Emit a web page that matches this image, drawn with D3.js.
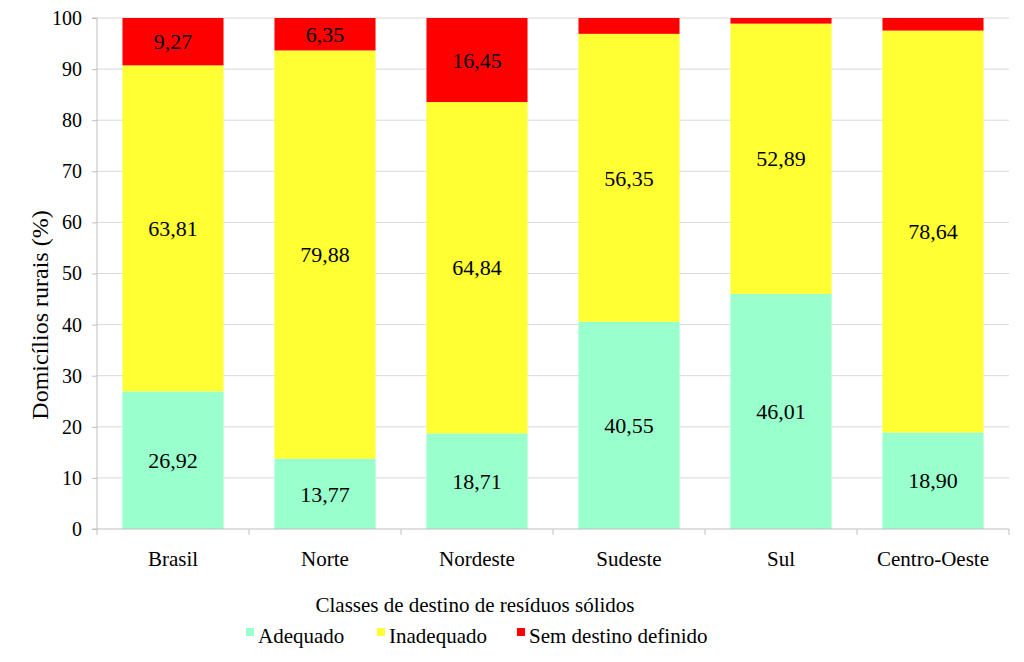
<!DOCTYPE html>
<html><head><meta charset="utf-8">
<script src="https://cdn.jsdelivr.net/npm/d3@7"></script>
<style>body{margin:0;background:#fff}svg{display:block}svg text{font-family:"Liberation Serif","Times New Roman",Times,"DejaVu Serif",serif !important;fill:#000}</style>
</head><body>
<svg id="c" width="1024" height="662"></svg>
<script>
const categories = ["Brasil","Norte","Nordeste","Sudeste","Sul","Centro-Oeste"];
const adequado = [26.92,13.77,18.71,40.55,46.01,18.90];
const inadequado = [63.81,79.88,64.84,56.35,52.89,78.64];
const semDestino = [9.27,6.35,16.45,3.10,1.10,2.46];
const showLabel = [[true,true,true],[true,true,true],[true,true,true],[true,true,false],[true,true,false],[true,true,false]];
const seriesNames = ["Adequado","Inadequado","Sem destino definido"];
const colors = ["#99FFCC","#FFFF33","#FF0000"];
const yTicks = [0,10,20,30,40,50,60,70,80,90,100];

const FONT = '"Liberation Serif","Times New Roman",Times,"DejaVu Serif",serif';
const svg = d3.select("#c").style("font-family", FONT);
const m = {l:97, r:1009, t:18, b:529};
const x = d3.scaleBand().domain(categories).range([m.l, m.r]).paddingInner(0.335).paddingOuter(0.1675);
const y = d3.scaleLinear().domain([0,100]).range([m.b, m.t]);

// gridlines
svg.append("g").selectAll("line").data(yTicks.filter(d=>d>0)).join("line")
  .attr("x1", m.l).attr("x2", m.r).attr("y1", d=>y(d)).attr("y2", d=>y(d))
  .attr("stroke", "#d9d9d9").attr("stroke-width", 1);

const data = categories.map((c,i)=>({cat:c, vals:[adequado[i],inadequado[i],semDestino[i]], i}));
const stack = d3.stack().keys([0,1,2]).value((d,k)=>d.vals[k]);
const layers = stack(data);

layers.forEach((layer,k)=>{
  svg.append("g").selectAll("rect").data(layer).join("rect")
    .attr("x", d=>x(d.data.cat)).attr("width", x.bandwidth())
    .attr("y", d=>y(Math.min(100,d[1]))).attr("height", d=>y(d[0])-y(Math.min(100,d[1])))
    .attr("fill", colors[k]);
  svg.append("g").selectAll("text").data(layer.filter(d=>showLabel[d.data.i][k])).join("text")
    .attr("x", d=>x(d.data.cat)+x.bandwidth()/2)
    .attr("y", d=>y((d[0]+d[1])/2))
    .attr("dy","0.35em").attr("text-anchor","middle").attr("font-size",22)
    .style("font-family", FONT)
    .text(d=>d.data.vals[k].toFixed(2).replace(".",","));
});

// y axis
const ya = svg.append("g").attr("transform",`translate(${m.l},0)`)
  .call(d3.axisLeft(y).tickValues(yTicks).tickSize(5).tickPadding(10).tickFormat(d3.format("d")));
ya.attr("font-family", null);
ya.select(".domain").attr("stroke","#bfbfbf").attr("d",`M-5,${m.t}H0V${m.b}H-5`);
ya.selectAll(".tick line").attr("stroke","#bfbfbf");
ya.selectAll(".tick text").attr("font-size",20).style("font-family", FONT).attr("fill","#000");

// x axis
const xa = svg.append("g").attr("transform",`translate(0,${m.b})`);
xa.append("line").attr("x1",m.l).attr("x2",m.r).attr("stroke","#bfbfbf");
const bounds = d3.range(categories.length+1).map(i=>m.l+i*(m.r-m.l)/categories.length);
xa.selectAll(".tk").data(bounds).join("line").attr("class","tk")
  .attr("x1",d=>d).attr("x2",d=>d).attr("y1",0).attr("y2",6).attr("stroke","#bfbfbf");
xa.selectAll(".lbl").data(categories).join("text").attr("class","lbl")
  .attr("x",d=>x(d)+x.bandwidth()/2).attr("y",37).attr("text-anchor","middle")
  .attr("font-size",21).style("font-family", FONT).text(d=>d);

// axis titles
svg.append("text").attr("transform","translate(48,315) rotate(-90)").attr("text-anchor","middle")
  .attr("font-size",24).style("font-family", FONT).text("Domicílios rurais (%)");
svg.append("text").attr("x",475).attr("y",612).attr("text-anchor","middle")
  .attr("font-size",21).style("font-family", FONT).text("Classes de destino de resíduos sólidos");

// legend
const legX = [246,377,517];
const lg = svg.append("g");
seriesNames.forEach((n,k)=>{
  lg.append("rect").attr("x",legX[k]).attr("y",628).attr("width",8).attr("height",8).attr("fill",colors[k]);
  lg.append("text").attr("x",legX[k]+12).attr("y",643).attr("font-size",21).style("font-family", FONT).text(n);
});
</script>
</body></html>
